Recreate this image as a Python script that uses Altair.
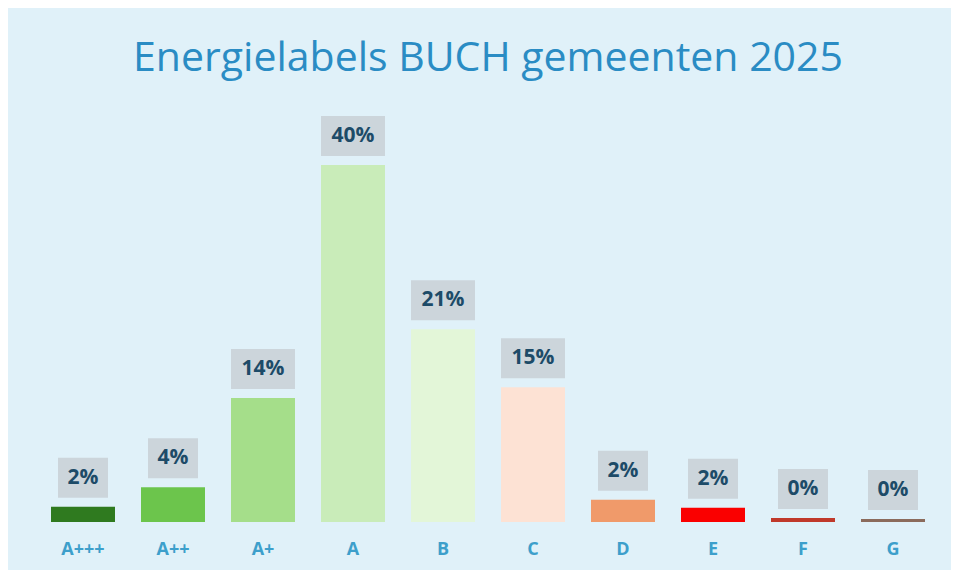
import altair as alt
import pandas as pd

labels = ["A+++", "A++", "A+", "A", "B", "C", "D", "E", "F", "G"]
values = [1.7, 3.9, 13.9, 40.0, 21.6, 15.1, 2.5, 1.6, 0.45, 0.35]
pct_text = ["2%", "4%", "14%", "40%", "21%", "15%", "2%", "2%", "0%", "0%"]
colors = ["#2f7a1f", "#6cc54c", "#a5de8a", "#c9ecb9", "#e3f6d8",
          "#fde2d4", "#f09a6a", "#fa0000", "#c0392b", "#8b6b5c"]

df = pd.DataFrame({"label": labels, "value": values, "pct": pct_text, "color": colors})

x = alt.X("label:N", sort=labels,
          scale=alt.Scale(paddingInner=0, paddingOuter=0),
          axis=alt.Axis(title=None, labelAngle=0, domain=False, ticks=False, grid=False,
                        labelColor="#3d9fcb", labelFont="Open Sans", labelFontSize=18,
                        labelFontWeight="bold", labelPadding=18))
y = alt.Y("value:Q", scale=alt.Scale(domain=[0, 45.5], nice=False), axis=None)

base = alt.Chart(df)

bars = base.mark_bar(width=64).encode(
    x=x, y=y, color=alt.Color("color:N", scale=None, legend=None))

box_wide = base.transform_filter("length(datum.pct) > 2").mark_bar(
    width=64, yOffset=-9, y2Offset=-49, color="#ccd5db"
).encode(x=x, y=y, y2="value:Q")

box_narrow = base.transform_filter("length(datum.pct) <= 2").mark_bar(
    width=50, yOffset=-9, y2Offset=-49, color="#ccd5db"
).encode(x=x, y=y, y2="value:Q")

text = base.mark_text(dy=-29, baseline="middle", align="center", fontSize=21,
                      fontWeight="bold", font="Open Sans", color="#1d4b68").encode(
    x=x, y=y, text="pct:N")

chart = alt.layer(bars, box_wide, box_narrow, text).properties(
    width=900, height=406,
    title=alt.TitleParams("Energielabels BUCH gemeenten 2025",
                          font="Open Sans", fontSize=41, fontWeight="normal",
                          color="#2a8cc4", anchor="middle", baseline="alphabetic", offset=4),
    autosize=alt.AutoSizeParams(type="none"),
    padding={"left": 30, "top": 108, "right": 13, "bottom": 48},
    background="#e0f1f9",
).configure_view(stroke=None)

chart.save("out.html", embed_options={"renderer": "svg", "actions": False})
